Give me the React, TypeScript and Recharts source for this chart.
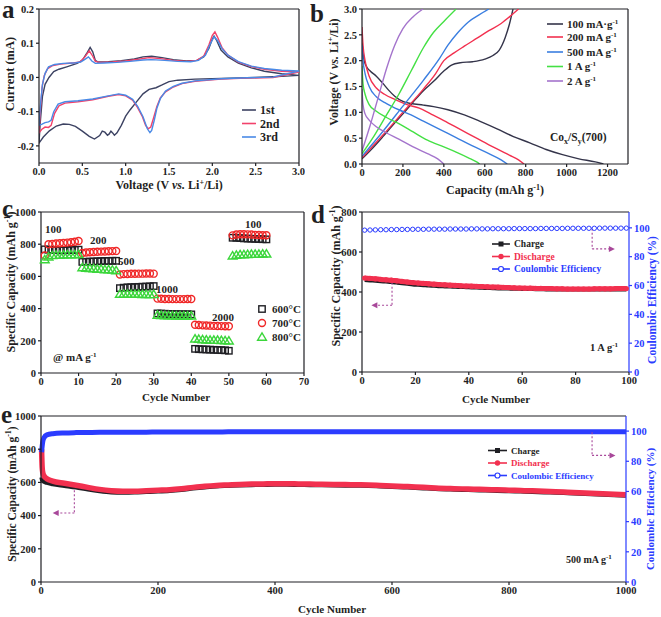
import React from 'react'
import {
  LineChart,
  Line,
  XAxis,
  YAxis,
  ReferenceLine,
  ReferenceDot,
  ScatterChart,
  Scatter,
  ComposedChart,
} from 'recharts'

const SERIF = '"Liberation Serif", "Times New Roman", serif'
const INK = '#1f1f24'
const BLUE = '#2b3cff'
const NOTE = '#a8489a'

// (a) CV loops, [voltage, current] in scan order (cathodic then anodic)
const cvFirst: [number, number][] = [
  [3.0, 0.006], [2.7, 0.002], [2.4, -0.001], [2.1, -0.003], [1.8, -0.005], [1.6, -0.008],
  [1.5, -0.012], [1.42, -0.022], [1.35, -0.03], [1.27, -0.035], [1.2, -0.048], [1.12, -0.073],
  [1.05, -0.095], [1.0, -0.113], [0.95, -0.14], [0.9, -0.162], [0.87, -0.169], [0.85, -0.162],
  [0.83, -0.157], [0.81, -0.165], [0.79, -0.169], [0.76, -0.16], [0.73, -0.157], [0.7, -0.17],
  [0.64, -0.18], [0.58, -0.172], [0.5, -0.157], [0.42, -0.143], [0.35, -0.137], [0.28, -0.136],
  [0.2, -0.142], [0.12, -0.156], [0.05, -0.174], [0.0, -0.192],
  [0.015, -0.13], [0.04, -0.055], [0.07, -0.02], [0.115, 0.0], [0.17, 0.017], [0.23, 0.024],
  [0.32, 0.031], [0.44, 0.041], [0.5, 0.05], [0.55, 0.07], [0.59, 0.088], [0.62, 0.075],
  [0.65, 0.05], [0.68, 0.045], [0.8, 0.046], [0.95, 0.049], [1.1, 0.054], [1.2, 0.06],
  [1.3, 0.062], [1.42, 0.058], [1.55, 0.052], [1.7, 0.048], [1.82, 0.05], [1.9, 0.06],
  [1.96, 0.085], [2.0, 0.112], [2.02, 0.121], [2.05, 0.108], [2.1, 0.08], [2.18, 0.06],
  [2.3, 0.042], [2.45, 0.028], [2.6, 0.018], [2.8, 0.011], [3.0, 0.006],
]
const cvSecond: [number, number][] = [
  [3.0, 0.016], [2.7, 0.0], [2.4, -0.002], [2.1, -0.005], [1.8, -0.011], [1.65, -0.018],
  [1.55, -0.028], [1.46, -0.042], [1.4, -0.06], [1.36, -0.085], [1.32, -0.12], [1.29, -0.145],
  [1.26, -0.15], [1.23, -0.14], [1.19, -0.113], [1.13, -0.085], [1.08, -0.066], [1.0, -0.054],
  [0.92, -0.05], [0.8, -0.055], [0.62, -0.065], [0.45, -0.071], [0.3, -0.075], [0.23, -0.083],
  [0.18, -0.105], [0.14, -0.14], [0.11, -0.146], [0.07, -0.145], [0.03, -0.152], [0.0, -0.162],
  [0.015, -0.1], [0.035, -0.03], [0.06, 0.005], [0.1, 0.026], [0.16, 0.035], [0.25, 0.039],
  [0.38, 0.042], [0.47, 0.045], [0.53, 0.06], [0.58, 0.078], [0.62, 0.062], [0.65, 0.047],
  [0.7, 0.044], [0.85, 0.045], [1.0, 0.048], [1.15, 0.053], [1.27, 0.058], [1.4, 0.055],
  [1.55, 0.05], [1.7, 0.047], [1.82, 0.05], [1.9, 0.062], [1.96, 0.095], [2.0, 0.123],
  [2.03, 0.133], [2.06, 0.118], [2.11, 0.088], [2.18, 0.065], [2.3, 0.045], [2.45, 0.032],
  [2.6, 0.024], [2.8, 0.018], [3.0, 0.016],
]
const cvThird: [number, number][] = [
  [3.0, 0.019], [2.7, 0.001], [2.4, -0.001], [2.1, -0.004], [1.8, -0.01], [1.65, -0.017],
  [1.55, -0.026], [1.46, -0.04], [1.4, -0.062], [1.36, -0.09], [1.33, -0.125], [1.3, -0.155],
  [1.28, -0.161], [1.25, -0.15], [1.2, -0.115], [1.14, -0.085], [1.08, -0.064], [1.0, -0.052],
  [0.92, -0.048], [0.8, -0.054], [0.62, -0.063], [0.45, -0.068], [0.3, -0.071], [0.22, -0.078],
  [0.17, -0.1], [0.14, -0.125], [0.11, -0.13], [0.07, -0.132], [0.03, -0.137], [0.0, -0.14],
  [0.015, -0.085], [0.04, -0.02], [0.07, 0.012], [0.11, 0.031], [0.18, 0.038], [0.28, 0.041],
  [0.4, 0.042], [0.48, 0.045], [0.53, 0.053], [0.57, 0.06], [0.61, 0.048], [0.65, 0.041],
  [0.75, 0.042], [0.9, 0.044], [1.05, 0.047], [1.2, 0.051], [1.3, 0.052], [1.45, 0.05],
  [1.6, 0.047], [1.75, 0.046], [1.84, 0.05], [1.92, 0.065], [1.97, 0.095], [2.02, 0.119],
  [2.06, 0.108], [2.11, 0.085], [2.18, 0.065], [2.3, 0.046], [2.45, 0.033], [2.6, 0.026],
  [2.8, 0.021], [3.0, 0.019],
]

// (b) galvanostatic profiles, [capacity, voltage]
const dis100: [number, number][] = [
  [0, 2.35], [8, 2.05], [20, 1.9], [40, 1.8], [70, 1.7], [100, 1.57], [130, 1.43], [160, 1.31],
  [200, 1.21], [240, 1.17], [300, 1.14], [350, 1.11], [420, 1.05], [500, 0.95], [580, 0.82],
  [660, 0.68], [740, 0.53], [820, 0.41], [900, 0.28], [980, 0.18], [1060, 0.1], [1140, 0.04],
  [1180, 0.0],
]
const chg100: [number, number][] = [
  [0, 0.1], [50, 0.3], [100, 0.52], [150, 0.75], [200, 0.97], [250, 1.2], [300, 1.42],
  [350, 1.6], [400, 1.8], [440, 1.92], [480, 1.96], [540, 1.98], [600, 2.03], [640, 2.1],
  [670, 2.2], [700, 2.45], [720, 2.7], [738, 3.0],
]
const dis200: [number, number][] = [
  [0, 2.65], [5, 2.3], [15, 2.0], [35, 1.7], [70, 1.47], [110, 1.35], [160, 1.25], [220, 1.15],
  [280, 1.08], [340, 0.96], [400, 0.84], [480, 0.67], [560, 0.5], [640, 0.33], [720, 0.17],
  [765, 0.08], [792, 0.0],
]
const chg200: [number, number][] = [
  [0, 0.12], [100, 0.55], [200, 1.0], [300, 1.45], [360, 1.75], [400, 2.0], [450, 2.15],
  [500, 2.28], [560, 2.43], [620, 2.58], [680, 2.72], [730, 2.88], [765, 3.0],
]
const dis500: [number, number][] = [
  [0, 2.3], [5, 2.0], [15, 1.75], [35, 1.5], [70, 1.3], [120, 1.17], [180, 1.05], [240, 0.95],
  [300, 0.83], [380, 0.67], [460, 0.51], [540, 0.35], [620, 0.2], [680, 0.08], [710, 0.0],
]
const chg500: [number, number][] = [
  [0, 0.15], [100, 0.62], [200, 1.12], [300, 1.62], [380, 2.05], [420, 2.3], [470, 2.55],
  [520, 2.75], [570, 2.88], [620, 3.0],
]
const dis1A: [number, number][] = [
  [0, 1.9], [5, 1.55], [15, 1.35], [35, 1.15], [70, 1.02], [120, 0.9], [180, 0.78], [250, 0.62],
  [320, 0.46], [400, 0.33], [460, 0.23], [520, 0.12], [560, 0.04], [575, 0.0],
]
const chg1A: [number, number][] = [
  [0, 0.2], [60, 0.55], [120, 0.95], [180, 1.35], [240, 1.8], [300, 2.25], [350, 2.55],
  [400, 2.76], [460, 3.0],
]
const dis2A: [number, number][] = [
  [0, 1.45], [5, 1.15], [15, 0.97], [35, 0.85], [70, 0.72], [120, 0.6], [180, 0.48],
  [250, 0.33], [320, 0.2], [370, 0.1], [400, 0.0],
]
const chg2A: [number, number][] = [
  [0, 0.25], [40, 0.75], [80, 1.3], [120, 1.85], [160, 2.3], [200, 2.62], [250, 2.85], [298, 3.0],
]

// (c) rate capability, cycles 1..60
const rate600 = [
  768, 766, 764, 763, 762, 762, 763, 764, 765, 766,
  690, 691, 692, 693, 694, 695, 696, 696, 697, 697,
  527, 530, 532, 533, 534, 535, 536, 537, 538, 540,
  370, 369, 368, 367, 366, 366, 365, 365, 365, 364,
  150, 148, 147, 146, 145, 144, 143, 142, 141, 138,
  840, 840, 838, 836, 835, 834, 833, 832, 831, 830,
]
const rate700 = [
  730, 800, 802, 804, 806, 808, 810, 812, 815, 820,
  745, 748, 750, 752, 753, 754, 755, 756, 757, 758,
  612, 614, 615, 616, 616, 617, 617, 618, 618, 617,
  462, 461, 460, 460, 459, 459, 459, 459, 460, 460,
  300, 298, 296, 295, 294, 293, 292, 291, 290, 290,
  855, 860, 862, 862, 861, 860, 858, 857, 856, 856,
]
const rate800 = [
  705, 722, 730, 732, 733, 734, 735, 735, 736, 737,
  655, 652, 650, 648, 646, 645, 643, 642, 640, 636,
  490, 491, 490, 490, 490, 490, 489, 489, 488, 488,
  360, 358, 357, 356, 356, 355, 355, 355, 355, 355,
  212, 210, 208, 206, 205, 204, 204, 203, 202, 200,
  728, 733, 735, 736, 737, 738, 738, 739, 740, 740,
]

// (d) 1 A/g cycling, every other cycle 1..99
const chargeD = [
  460, 458, 456, 454, 452, 450, 447, 444, 441, 438,
  436, 434, 432, 431, 429, 428, 427, 426, 425, 424,
  423, 422, 421, 420, 419, 418, 418, 417, 416, 416,
  415, 415, 414, 414, 413, 413, 413, 412, 412, 412,
  412, 412, 412, 412, 412, 413, 413, 413, 413, 413,
]
const dischargeD = [
  470, 468, 466, 463, 461, 459, 456, 453, 450, 447,
  445, 443, 441, 439, 437, 436, 434, 433, 431, 430,
  429, 428, 427, 426, 425, 424, 423, 422, 421, 420,
  419, 419, 418, 418, 417, 417, 416, 416, 415, 415,
  415, 415, 415, 416, 416, 416, 416, 417, 417, 417,
]
const ceD = [
  98.4, 98.5, 98.6, 98.7, 98.7, 98.8, 98.8, 98.9, 98.9, 99.0,
  99.0, 99.0, 99.1, 99.1, 99.1, 99.1, 99.2, 99.2, 99.2, 99.2,
  99.3, 99.3, 99.3, 99.3, 99.4, 99.4, 99.4, 99.4, 99.5, 99.5,
  99.5, 99.5, 99.5, 99.6, 99.6, 99.6, 99.6, 99.6, 99.7, 99.7,
  99.7, 99.7, 99.7, 99.7, 99.8, 99.8, 99.8, 99.8, 99.8, 99.8,
]

// (e) 500 mA/g long cycling
const cyclesE = [
  1, 2, 3, 5, 10,
  20, 40, 60, 80, 100, 120, 140, 160, 180, 200,
  220, 240, 260, 280, 300, 320, 340, 360, 380, 400,
  420, 440, 460, 480, 500, 520, 540, 560, 580, 600,
  620, 640, 660, 680, 700, 720, 740, 760, 780, 800,
  820, 840, 860, 880, 900, 920, 940, 960, 980, 1000,
]
const dischargeE = [
  800, 690, 660, 640, 622,
  608, 595, 583, 570, 558, 550, 547, 547, 550, 553,
  556, 562, 570, 577, 582, 585, 588, 590, 591, 592,
  592, 591, 590, 589, 588, 587, 586, 585, 582, 579,
  576, 573, 569, 565, 563, 561, 559, 557, 555, 553,
  551, 549, 546, 544, 541, 538, 535, 532, 529, 526,
]
const chargeE = [
  630, 615, 610, 605, 598,
  590, 580, 570, 558, 548, 541, 539, 540, 543, 546,
  550, 556, 564, 571, 577, 580, 583, 585, 586, 587,
  587, 586, 585, 584, 583, 582, 581, 580, 577, 574,
  571, 568, 564, 560, 558, 556, 554, 552, 550, 548,
  546, 544, 541, 539, 536, 533, 530, 527, 524, 521,
]
const ceE = [
  86, 90, 93, 95.5, 97.5,
  98.3, 98.8, 99.0, 99.1, 99.2, 99.2, 99.3, 99.3, 99.3, 99.4,
  99.4, 99.4, 99.4, 99.4, 99.4, 99.5, 99.5, 99.5, 99.5, 99.5,
  99.5, 99.5, 99.5, 99.5, 99.5, 99.5, 99.5, 99.5, 99.5, 99.5,
  99.5, 99.5, 99.5, 99.5, 99.5, 99.5, 99.5, 99.5, 99.5, 99.5,
  99.5, 99.5, 99.5, 99.5, 99.5, 99.5, 99.5, 99.5, 99.5, 99.5,
]

const pts = (arr: [number, number][]) => arr.map(([x, y]) => ({ x, y }))
const byCycle = (vals: number[]) => vals.map((y, i) => ({ x: i + 1, y }))

const tick = { fontFamily: SERIF, fontSize: 10.5, fontWeight: 700, fill: INK }
const blueTick = { ...tick, fill: BLUE }
const frame = { stroke: INK, strokeWidth: 1.2 }
const blueFrame = { stroke: BLUE, strokeWidth: 1.2 }

const openSquare = (p: any) => (
  <rect x={p.cx - 3.2} y={p.cy - 3.2} width={6.4} height={6.4} fill="none" stroke={INK} strokeWidth={1.4} />
)
const openCircle = (p: any) => (
  <circle cx={p.cx} cy={p.cy} r={3.5} fill="none" stroke="#f02828" strokeWidth={1.4} />
)
const openTriangle = (p: any) => (
  <path d={`M${p.cx},${p.cy - 4.2} L${p.cx + 4.4},${p.cy + 3.2} L${p.cx - 4.4},${p.cy + 3.2} Z`} fill="none" stroke="#3bd63b" strokeWidth={1.4} />
)
const headLeft = (p: any) => <path d={`M${p.cx},${p.cy} l6,-3 l0,6 z`} fill={NOTE} />
const headRight = (p: any) => <path d={`M${p.cx},${p.cy} l-6,-3 l0,6 z`} fill={NOTE} />

function PanelA() {
  const lines = [
    { d: cvFirst, c: '#3c4262' },
    { d: cvSecond, c: '#f2426b' },
    { d: cvThird, c: '#4a8ae6' },
  ]
  return (
    <LineChart width={305} height={200} margin={{ top: 9, right: 6, bottom: 0, left: 0 }}>
      <XAxis type="number" dataKey="x" domain={[0, 3]} ticks={[0, 0.5, 1, 1.5, 2, 2.5, 3]}
        tickFormatter={(v: number) => v.toFixed(1)} allowDataOverflow height={37}
        tick={tick} tickSize={3} axisLine={frame} tickLine={frame} />
      <YAxis type="number" domain={[-0.25, 0.2]} ticks={[-0.2, -0.1, 0, 0.1, 0.2]}
        tickFormatter={(v: number) => v.toFixed(1)} allowDataOverflow width={39}
        tick={tick} tickSize={3} axisLine={frame} tickLine={frame} />
      <ReferenceLine y={0.2} stroke={INK} strokeWidth={1.2} />
      <ReferenceLine x={3} stroke={INK} strokeWidth={1.2} />
      {lines.map((l, i) => (
        <Line key={i} data={pts(l.d)} dataKey="y" type="linear" stroke={l.c} strokeWidth={1.4}
          dot={false} isAnimationActive={false} />
      ))}
    </LineChart>
  )
}

function PanelB() {
  const curves = [
    { d: dis100, c: '#34344a' }, { d: chg100, c: '#34344a' },
    { d: dis200, c: '#f2304f' }, { d: chg200, c: '#f2304f' },
    { d: dis500, c: '#3a7ee0' }, { d: chg500, c: '#3a7ee0' },
    { d: dis1A, c: '#44e044' }, { d: chg1A, c: '#44e044' },
    { d: dis2A, c: '#a474cc' }, { d: chg2A, c: '#a474cc' },
  ]
  return (
    <LineChart width={300} height={200} margin={{ top: 9, right: 2, bottom: 0, left: 0 }}>
      <XAxis type="number" dataKey="x" domain={[0, 1300]} ticks={[0, 200, 400, 600, 800, 1000, 1200]}
        allowDataOverflow height={36} tick={tick} tickSize={3} axisLine={frame} tickLine={frame} />
      <YAxis type="number" domain={[0, 3]} ticks={[0, 0.5, 1, 1.5, 2, 2.5, 3]}
        tickFormatter={(v: number) => v.toFixed(1)} allowDataOverflow width={32}
        tick={tick} tickSize={3} axisLine={frame} tickLine={frame} />
      <ReferenceLine y={3} stroke={INK} strokeWidth={1.2} />
      <ReferenceLine x={1300} stroke={INK} strokeWidth={1.2} />
      {curves.map((l, i) => (
        <Line key={i} data={pts(l.d)} dataKey="y" type="monotone" stroke={l.c} strokeWidth={1.4}
          dot={false} isAnimationActive={false} />
      ))}
    </LineChart>
  )
}

function PanelC() {
  return (
    <ScatterChart width={310} height={205} margin={{ top: 12, right: 6, bottom: 0, left: 0 }}>
      <XAxis type="number" dataKey="x" domain={[0, 70]} ticks={[0, 10, 20, 30, 40, 50, 60, 70]}
        height={32} tick={tick} tickSize={3} axisLine={frame} tickLine={frame} />
      <YAxis type="number" dataKey="y" domain={[0, 1000]} ticks={[0, 200, 400, 600, 800, 1000]}
        width={41} tick={tick} tickSize={3} axisLine={frame} tickLine={frame} />
      <ReferenceLine y={1000} stroke={INK} strokeWidth={1.2} />
      <ReferenceLine x={70} stroke={INK} strokeWidth={1.2} />
      <Scatter data={byCycle(rate600)} shape={openSquare} isAnimationActive={false} />
      <Scatter data={byCycle(rate700)} shape={openCircle} isAnimationActive={false} />
      <Scatter data={byCycle(rate800)} shape={openTriangle} isAnimationActive={false} />
    </ScatterChart>
  )
}

function PanelD() {
  const rows = chargeD.map((c, i) => ({ cycle: 1 + i * 2, charge: c, discharge: dischargeD[i], ce: ceD[i] }))
  return (
    <ComposedChart width={331} height={205} data={rows} margin={{ top: 12, right: 0, bottom: 0, left: 0 }}>
      <XAxis type="number" dataKey="cycle" domain={[0, 100]} ticks={[0, 20, 40, 60, 80, 100]}
        height={33} tick={tick} tickSize={3} axisLine={frame} tickLine={frame} />
      <YAxis yAxisId="l" type="number" domain={[0, 800]} ticks={[0, 200, 400, 600, 800]}
        width={32} tick={tick} tickSize={3} axisLine={frame} tickLine={frame} />
      <YAxis yAxisId="r" orientation="right" type="number" domain={[0, 111]} ticks={[0, 20, 40, 60, 80, 100]}
        width={32} tick={blueTick} tickSize={3} axisLine={blueFrame} tickLine={blueFrame} />
      <ReferenceLine yAxisId="l" y={800} stroke={INK} strokeWidth={1.2} />
      <Line yAxisId="l" dataKey="charge" type="monotone" stroke={INK} strokeWidth={4}
        dot={false} isAnimationActive={false} />
      <Line yAxisId="l" dataKey="discharge" type="monotone" stroke="#f2304f" strokeWidth={5}
        dot={{ r: 2.6, fill: '#f2304f', stroke: 'none' }} isAnimationActive={false} />
      <Line yAxisId="r" dataKey="ce" type="monotone" stroke={BLUE} strokeWidth={1}
        dot={{ r: 2.2, fill: '#fff', stroke: BLUE, strokeWidth: 1 }} isAnimationActive={false} />
      <ReferenceLine yAxisId="l" segment={[{ x: 11.25, y: 446 }, { x: 11.25, y: 334 }]} stroke={NOTE} strokeWidth={1.1} strokeDasharray="2 2" />
      <ReferenceLine yAxisId="l" segment={[{ x: 11.25, y: 334 }, { x: 5.5, y: 334 }]} stroke={NOTE} strokeWidth={1.1} strokeDasharray="2 2" />
      <ReferenceDot yAxisId="l" x={3.5} y={334} shape={headLeft} />
      <ReferenceLine yAxisId="r" segment={[{ x: 86.2, y: 99.3 }, { x: 86.2, y: 85.4 }]} stroke={NOTE} strokeWidth={1.1} strokeDasharray="2 2" />
      <ReferenceLine yAxisId="r" segment={[{ x: 86.2, y: 85.4 }, { x: 92.5, y: 85.4 }]} stroke={NOTE} strokeWidth={1.1} strokeDasharray="2 2" />
      <ReferenceDot yAxisId="r" x={94.7} y={85.4} shape={headRight} />
    </ComposedChart>
  )
}

function PanelE() {
  const rows = cyclesE.map((c, i) => ({ cycle: c, charge: chargeE[i], discharge: dischargeE[i], ce: ceE[i] }))
  return (
    <ComposedChart width={661} height={212} data={rows} margin={{ top: 11, right: 0, bottom: 0, left: 0 }}>
      <XAxis type="number" dataKey="cycle" domain={[0, 1000]} ticks={[0, 200, 400, 600, 800, 1000]}
        height={35} tick={tick} tickSize={3} axisLine={frame} tickLine={frame} />
      <YAxis yAxisId="l" type="number" domain={[0, 1000]} ticks={[0, 200, 400, 600, 800, 1000]}
        width={41} tick={tick} tickSize={3} axisLine={frame} tickLine={frame} />
      <YAxis yAxisId="r" orientation="right" type="number" domain={[0, 110]} ticks={[0, 20, 40, 60, 80, 100]}
        width={35} tick={blueTick} tickSize={3} axisLine={blueFrame} tickLine={blueFrame} />
      <ReferenceLine yAxisId="l" y={1000} stroke={INK} strokeWidth={1.2} />
      <Line yAxisId="l" dataKey="charge" type="monotone" stroke={INK} strokeWidth={4.5}
        dot={false} isAnimationActive={false} />
      <Line yAxisId="l" dataKey="discharge" type="monotone" stroke="#f2304f" strokeWidth={5.5}
        dot={false} isAnimationActive={false} />
      <Line yAxisId="r" dataKey="ce" type="monotone" stroke={BLUE} strokeWidth={5}
        dot={false} isAnimationActive={false} />
      <ReferenceLine yAxisId="l" segment={[{ x: 57, y: 552 }, { x: 57, y: 416 }]} stroke={NOTE} strokeWidth={1.1} strokeDasharray="2 2" />
      <ReferenceLine yAxisId="l" segment={[{ x: 57, y: 416 }, { x: 28, y: 416 }]} stroke={NOTE} strokeWidth={1.1} strokeDasharray="2 2" />
      <ReferenceDot yAxisId="l" x={20} y={416} shape={headLeft} />
      <ReferenceLine yAxisId="r" segment={[{ x: 942, y: 99.3 }, { x: 942, y: 83.9 }]} stroke={NOTE} strokeWidth={1.1} strokeDasharray="2 2" />
      <ReferenceLine yAxisId="r" segment={[{ x: 942, y: 83.9 }, { x: 972, y: 83.9 }]} stroke={NOTE} strokeWidth={1.1} strokeDasharray="2 2" />
      <ReferenceDot yAxisId="r" x={982} y={83.9} shape={headRight} />
    </ComposedChart>
  )
}

function VTitle({ x, y, size = 12, color = INK, children }: any) {
  return (
    <text x={x} y={y} transform={`rotate(-90 ${x} ${y})`} textAnchor="middle" dominantBaseline="central"
      fontFamily={SERIF} fontSize={size} fontWeight={700} fill={color}>{children}</text>
  )
}
function HText({ x, y, size = 11, color = INK, anchor = 'start', children }: any) {
  return (
    <text x={x} y={y} textAnchor={anchor} fontFamily={SERIF} fontSize={size} fontWeight={700} fill={color}>{children}</text>
  )
}

// "Specific Capacity (mAh g^-1)" style title pieces
const capTitle = (
  <>
    <tspan>Specific Capacity (mAh g</tspan>
    <tspan dy={-4} fontSize={8}>-1</tspan>
    <tspan dy={4}>)</tspan>
  </>
)
const voltTitle = (
  <>
    <tspan>Voltage (V </tspan>
    <tspan fontStyle="italic">vs.</tspan>
    <tspan> Li</tspan>
    <tspan dy={-4} fontSize={8}>+</tspan>
    <tspan dy={4}>/Li)</tspan>
  </>
)
const perGram = (head: string) => (
  <>
    <tspan>{head}</tspan>
    <tspan dy={-4} fontSize={7}>-1</tspan>
  </>
)

function Key({ x, y, w, color, label, size = 11, textColor = INK, marker }: any) {
  return (
    <g>
      <line x1={x} x2={x + w} y1={y} y2={y} stroke={color} strokeWidth={1.6} />
      {marker === 'square' && <rect x={x + w / 2 - 2.5} y={y - 2.5} width={5} height={5} fill={color} />}
      {marker === 'dot' && <circle cx={x + w / 2} cy={y} r={2.7} fill={color} />}
      {marker === 'ring' && <circle cx={x + w / 2} cy={y} r={2.5} fill="#fff" stroke={color} strokeWidth={1.2} />}
      <text x={x + w + 4} y={y + size * 0.35} fontFamily={SERIF} fontSize={size} fontWeight={700} fill={textColor}>{label}</text>
    </g>
  )
}

function Overlay() {
  const letter = { fontFamily: SERIF, fontSize: 25, fontWeight: 700, fill: INK }
  return (
    <svg width={661} height={617} style={{ position: 'absolute', left: 0, top: 0, pointerEvents: 'none' }}>
      <text x={2} y={18} {...letter}>a</text>
      <text x={310} y={22} {...letter}>b</text>
      <text x={2} y={217} {...letter}>c</text>
      <text x={311} y={223} {...letter}>d</text>
      <text x={1} y={423} {...letter}>e</text>

      {/* a */}
      <VTitle x={10} y={74} size={12.5}>Current (mA)</VTitle>
      <HText x={169} y={189} size={12} anchor="middle">{voltTitle}</HText>
      <Key x={242} y={110} w={14} color="#3c4262" label="1st" size={12} />
      <Key x={242} y={123.5} w={14} color="#f2426b" label="2nd" size={12} />
      <Key x={242} y={137} w={14} color="#4a8ae6" label="3rd" size={12} />

      {/* b */}
      <VTitle x={334} y={72} size={12}>{voltTitle}</VTitle>
      <HText x={495} y={194} size={12} anchor="middle">
        <tspan>Capacity (mAh g</tspan>
        <tspan dy={-4} fontSize={8}>-1</tspan>
        <tspan dy={4}>)</tspan>
      </HText>
      <Key x={547} y={24} w={16} color="#34344a" label={perGram('100 mA·g')} />
      <Key x={547} y={37} w={16} color="#f2304f" label={perGram('200 mA g')} />
      <Key x={547} y={52} w={16} color="#3a7ee0" label={perGram('500 mA g')} />
      <Key x={547} y={66.5} w={16} color="#44e044" label={perGram('1 A g')} />
      <Key x={547} y={81} w={16} color="#a474cc" label={perGram('2 A g')} />
      <HText x={550} y={141} size={11.5}>
        <tspan>Co</tspan>
        <tspan dy={3} fontSize={8}>x</tspan>
        <tspan dy={-3}>/S</tspan>
        <tspan dy={3} fontSize={8}>y</tspan>
        <tspan dy={-3}>(700)</tspan>
      </HText>

      {/* c */}
      <VTitle x={11} y={282} size={12}>{capTitle}</VTitle>
      <HText x={176} y={401} size={11} anchor="middle">Cycle Number</HText>
      <HText x={45} y={233} size={11}>100</HText>
      <HText x={90} y={244} size={11}>200</HText>
      <HText x={118} y={265} size={11}>500</HText>
      <HText x={156} y={293} size={11}>1000</HText>
      <HText x={212} y={321} size={11}>2000</HText>
      <HText x={245} y={228} size={11}>100</HText>
      <HText x={53} y={361} size={11}>{perGram('@ mA g')}</HText>
      {openSquare({ cx: 262, cy: 309 })}
      {openCircle({ cx: 262, cy: 323 })}
      {openTriangle({ cx: 262, cy: 337 })}
      <HText x={272} y={313} size={11}>600°C</HText>
      <HText x={272} y={327} size={11}>700°C</HText>
      <HText x={272} y={341} size={11}>800°C</HText>

      {/* d */}
      <VTitle x={336} y={276} size={12}>{capTitle}</VTitle>
      <VTitle x={652} y={300} size={11.5} color={BLUE}>Coulombic Efficiency (%)</VTitle>
      <HText x={496} y={403} size={11} anchor="middle">Cycle Number</HText>
      <Key x={492} y={244} w={18} color={INK} label="Charge" size={9.5} marker="square" />
      <Key x={492} y={256.5} w={18} color="#f2304f" label="Discharge" size={9.5} textColor="#f2304f" marker="dot" />
      <Key x={492} y={269} w={18} color={BLUE} label="Coulombic Efficiency" size={9.5} textColor={BLUE} marker="ring" />
      <HText x={590} y={351} size={10.5}>{perGram('1 A g')}</HText>

      {/* e */}
      <VTitle x={12} y={494} size={11.5}>{capTitle}</VTitle>
      <VTitle x={650} y={509} size={11} color={BLUE}>Coulombic Efficiency (%)</VTitle>
      <HText x={332} y={613} size={11} anchor="middle">Cycle Number</HText>
      <Key x={488} y={450.5} w={19} color={INK} label="Charge" size={9} marker="square" />
      <Key x={488} y={463} w={19} color="#f2304f" label="Discharge" size={9} textColor="#f2304f" marker="dot" />
      <Key x={488} y={475.5} w={19} color={BLUE} label="Coulombic Efficiency" size={9} textColor={BLUE} marker="ring" />
      <HText x={566} y={563} size={10}>{perGram('500 mA g')}</HText>
    </svg>
  )
}

export default function App() {
  return (
    <div style={{ position: 'absolute', left: 0, top: 0, width: 661, height: 617, background: '#fff', overflow: 'hidden' }}>
      <div style={{ position: 'absolute', left: 0, top: 0 }}><PanelA /></div>
      <div style={{ position: 'absolute', left: 330, top: 0 }}><PanelB /></div>
      <div style={{ position: 'absolute', left: 0, top: 200 }}><PanelC /></div>
      <div style={{ position: 'absolute', left: 330, top: 200 }}><PanelD /></div>
      <div style={{ position: 'absolute', left: 0, top: 405 }}><PanelE /></div>
      <Overlay />
    </div>
  )
}
